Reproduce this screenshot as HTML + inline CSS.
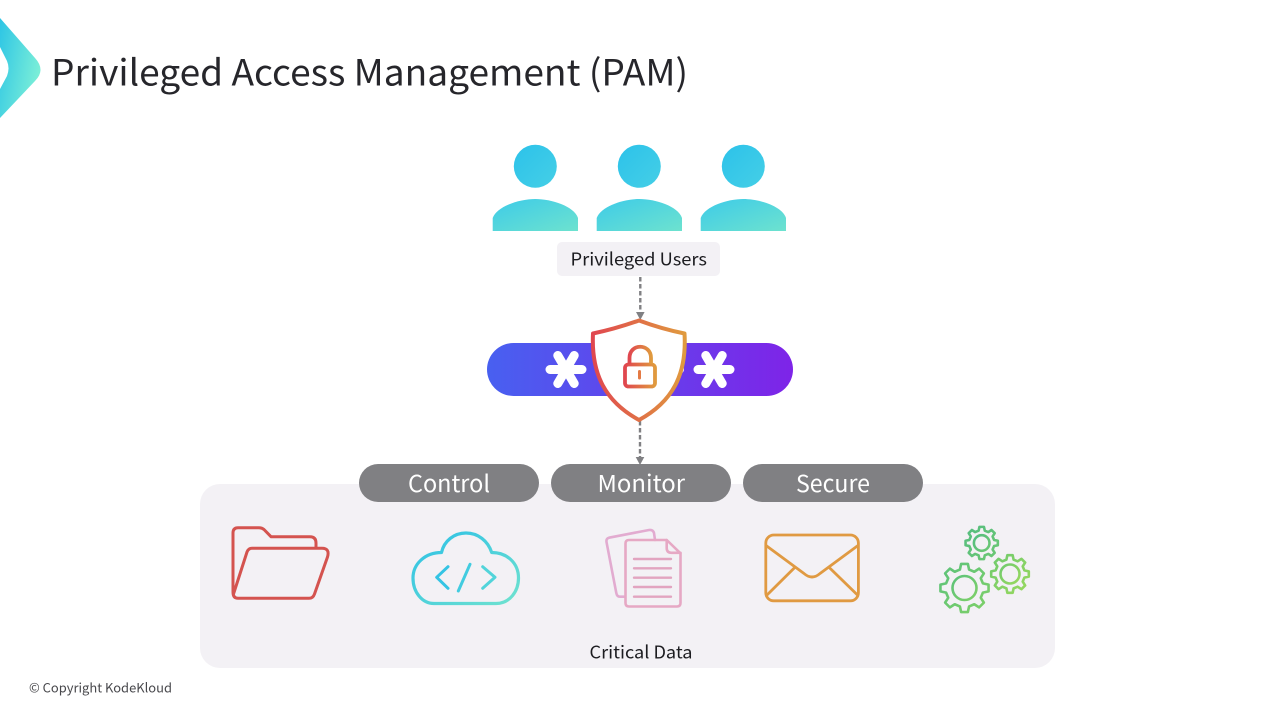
<!DOCTYPE html>
<html><head><meta charset="utf-8"><style>
html,body{margin:0;padding:0;background:#fff;width:1280px;height:720px;overflow:hidden}
svg{display:block}
text{font-family:"Noto Sans CJK JP","Liberation Sans",sans-serif}
</style></head><body>
<svg width="1280" height="720" viewBox="0 0 1280 720" xmlns="http://www.w3.org/2000/svg">
<defs>
<linearGradient id="lg" x1="0" y1="0" x2="1" y2=".45"><stop offset="0" stop-color="#2dc5e5"/><stop offset="1" stop-color="#7aeed8"/></linearGradient>
<linearGradient id="head" x1="0" y1="0" x2="1" y2="1"><stop offset="0" stop-color="#2cc2ea"/><stop offset="1" stop-color="#45cfe6"/></linearGradient>
<linearGradient id="body" x1="0" y1="0" x2="1" y2="1"><stop offset="0" stop-color="#3dcbe8"/><stop offset="1" stop-color="#6de2cf"/></linearGradient>
<linearGradient id="pill" x1="0" y1="0" x2="1" y2="0"><stop offset="0" stop-color="#4860f0"/><stop offset="1" stop-color="#7e24e8"/></linearGradient>
<linearGradient id="shield" x1="0" y1="0" x2="1" y2="0"><stop offset="0" stop-color="#e0474f"/><stop offset="1" stop-color="#e09a3e"/></linearGradient>
<linearGradient id="cloud" x1="0" y1="0" x2="1" y2="1"><stop offset="0" stop-color="#2cc0e6"/><stop offset="1" stop-color="#6fe2cf"/></linearGradient>
<linearGradient id="g1" x1="0" y1="0" x2="1" y2="1"><stop offset="0" stop-color="#55bd7f"/><stop offset="1" stop-color="#6cc873"/></linearGradient>
<linearGradient id="g2" x1="0" y1="0" x2="1" y2="1"><stop offset="0" stop-color="#6fca6e"/><stop offset="1" stop-color="#98d85e"/></linearGradient>
<linearGradient id="g3" x1="0" y1="0" x2="1" y2="1"><stop offset="0" stop-color="#5cc27a"/><stop offset="1" stop-color="#7ed068"/></linearGradient>
</defs>

<!-- logo -->
<path d="M0,18 L35,58 Q46,70 35,81 L0,118 V89 L7,76 Q10,68 7,61 L0,47 Z" fill="url(#lg)"/>
<text x="51" y="85.5" font-size="36" fill="#26262b" textLength="637" lengthAdjust="spacingAndGlyphs">Privileged Access Management (PAM)</text>

<!-- users -->
<g>
<circle cx="535.3" cy="166.3" r="21.5" fill="url(#head)"/>
<circle cx="639.3" cy="166.3" r="21.5" fill="url(#head)"/>
<circle cx="743.3" cy="166.3" r="21.5" fill="url(#head)"/>
<path d="M492.7,231 V218 C497,206 520,199 535.3,199 C551,199 574,206 578,218 V231 Z" fill="url(#body)"/>
<path d="M596.7,231 V218 C601,206 624,199 639.3,199 C655,199 678,206 682,218 V231 Z" fill="url(#body)"/>
<path d="M700.7,231 V218 C705,206 728,199 743.3,199 C759,199 782,206 786,218 V231 Z" fill="url(#body)"/>
</g>
<rect x="557" y="242" width="163" height="34" rx="5" fill="#f3f1f5"/>
<text x="570.5" y="265.5" font-size="17.5" fill="#1c1c20" textLength="136.5" lengthAdjust="spacingAndGlyphs">Privileged Users</text>

<!-- arrows -->
<line x1="640.3" y1="277" x2="640.3" y2="313" stroke="#808083" stroke-width="2.4" stroke-dasharray="4.5 2.5"/>
<path d="M636,312 H644.6 L640.3,320 Z" fill="#808083"/>
<line x1="640" y1="421" x2="640" y2="458" stroke="#808083" stroke-width="2.4" stroke-dasharray="4.5 2.5"/>
<path d="M635.7,457 H644.3 L640,465 Z" fill="#808083"/>

<!-- password pill -->
<rect x="487" y="343" width="306" height="53" rx="26.5" fill="url(#pill)"/>
<g stroke="#fff" stroke-width="9" stroke-linecap="round">
<path d="M550,369.5 H582 M557.8,355.5 L574.2,383.5 M574.2,355.5 L557.8,383.5"/>
<path d="M698,369.5 H730 M705.8,355.5 L722.2,383.5 M722.2,355.5 L705.8,383.5"/>
</g>
<circle cx="680" cy="369.5" r="4" fill="#fff"/>
<path d="M639,320.5 Q615,329 593,333.5 C591,375 606,402 639,420 C672,402 687,375 684.5,333.5 Q662,329 639,320.5 Z" fill="#fff" stroke="url(#shield)" stroke-width="4" stroke-linejoin="round"/>
<rect x="625" y="364.5" width="30" height="22" rx="3.5" fill="none" stroke="url(#shield)" stroke-width="3.8"/>
<path d="M629.5,364 V358 C629.5,343 651,343 651,358 V364" fill="none" stroke="url(#shield)" stroke-width="3.8"/>
<line x1="639.5" y1="371.5" x2="639.5" y2="378" stroke="#e47a44" stroke-width="3" stroke-linecap="round"/>

<!-- panel -->
<rect x="200" y="484" width="855" height="184" rx="20" fill="#f3f1f5"/>
<rect x="359" y="464" width="180" height="38" rx="19" fill="#808083"/>
<rect x="551" y="464" width="180" height="38" rx="19" fill="#808083"/>
<rect x="743" y="464" width="180" height="38" rx="19" fill="#808083"/>
<text x="408" y="492" font-size="23.5" fill="#fff" textLength="82" lengthAdjust="spacingAndGlyphs">Control</text>
<text x="597.5" y="492" font-size="23.5" fill="#fff" textLength="87.5" lengthAdjust="spacingAndGlyphs">Monitor</text>
<text x="796" y="492" font-size="23.5" fill="#fff" textLength="74" lengthAdjust="spacingAndGlyphs">Secure</text>

<!-- folder -->
<g fill="none" stroke="#d4534f" stroke-width="3" stroke-linejoin="round" stroke-linecap="round">
<path d="M316,548 V543 Q316,536.7 310,536.7 H271 L264,529.5 Q262,527.7 259,527.7 H238 Q233,527.7 233,533 V592 Q233,598.3 238,598.3 H309 Q313,598.3 314.5,594 L327.5,557 Q330,548.3 322,548.3 H252 Q248.5,548.3 247,552 L233.5,594"/>
</g>
<!-- cloud -->
<g fill="none" stroke="url(#cloud)" stroke-width="3.2" stroke-linecap="round" stroke-linejoin="round">
<path d="M434,603.5 H496 C510,603.5 518.5,591 518.5,578 C518.5,563 507,552.5 491.7,552.5 C488,541 478,533 466,533 C454,533 444,541 441.5,552.5 C425,552.5 413,564 413,578 C413,592 422,603.5 434,603.5 Z"/>
</g>
<g fill="none" stroke-width="3" stroke-linecap="round" stroke-linejoin="round">
<path d="M448,566.7 L436.7,577.3 L448,588.3" stroke="#34c4e4"/>
<path d="M470,564.3 L458.3,591" stroke="#42cce0"/>
<path d="M482.7,566.7 L495,577.3 L482.7,588.3" stroke="#52d4da"/>
</g>
<!-- docs -->
<g fill="none" stroke-linejoin="round" stroke-linecap="round">
<path d="M625,596.7 H620 Q617,596.7 616.3,593 L606.5,542 Q606,538.5 609,537.7 L649,530 Q653,529.5 654,533 L655,540" stroke="#e2abd0" stroke-width="2.6"/>
<path d="M629,540 H666.7 L680.5,553.3 V603 Q680.5,606.5 677,606.5 H629 Q625.5,606.5 625.5,603 V543.5 Q625.5,540 629,540 Z" stroke="#e6a8c4" stroke-width="2.6"/>
<path d="M666.7,540 V548 Q666.7,552.8 671.5,552.8 H680.5" stroke="#e6a8c4" stroke-width="2.6"/>
<path d="M634,559 H671 M634,568.3 H671 M634,577.7 H671 M634,587 H671 M634,596.7 H671" stroke="#e2a4c0" stroke-width="2.4"/>
</g>
<!-- envelope -->
<g fill="none" stroke="#e09a42" stroke-width="2.8" stroke-linejoin="round" stroke-linecap="round">
<rect x="765.8" y="535" width="92.6" height="65.8" rx="8"/>
<path d="M766,545.5 L804,573.5 Q812,580.5 820,573.5 L858,545.5"/>
<path d="M794,568.3 L767,595 M830,568.3 L857.5,595"/>
</g>
<!-- gears -->
<g fill="none" stroke-width="2.6" stroke-linejoin="round">
<polygon transform="translate(981.7,543) scale(16.3)" vector-effect="non-scaling-stroke" stroke="url(#g1)" points=".757,-.189 .99,-.139 .99,.139 .757,.189 .669,.402 .798,.602 .602,.798 .402,.669 .189,.757 .139,.99 -.139,.99 -.189,.757 -.402,.669 -.602,.798 -.798,.602 -.669,.402 -.757,.189 -.99,.139 -.99,-.139 -.757,-.189 -.669,-.402 -.798,-.602 -.602,-.798 -.402,-.669 -.189,-.757 -.139,-.99 .139,-.99 .189,-.757 .402,-.669 .602,-.798 .798,-.602 .669,-.402"/>
<circle cx="981.7" cy="543" r="7.8" stroke="url(#g1)"/>
<polygon transform="translate(1010,574) scale(19)" vector-effect="non-scaling-stroke" stroke="url(#g2)" points=".757,-.189 .99,-.139 .99,.139 .757,.189 .669,.402 .798,.602 .602,.798 .402,.669 .189,.757 .139,.99 -.139,.99 -.189,.757 -.402,.669 -.602,.798 -.798,.602 -.669,.402 -.757,.189 -.99,.139 -.99,-.139 -.757,-.189 -.669,-.402 -.798,-.602 -.602,-.798 -.402,-.669 -.189,-.757 -.139,-.99 .139,-.99 .189,-.757 .402,-.669 .602,-.798 .798,-.602 .669,-.402"/>
<circle cx="1010" cy="574" r="9.5" stroke="url(#g2)"/>
<polygon transform="translate(964.5,588) scale(24.3)" vector-effect="non-scaling-stroke" stroke="url(#g3)" points=".757,-.189 .99,-.139 .99,.139 .757,.189 .669,.402 .798,.602 .602,.798 .402,.669 .189,.757 .139,.99 -.139,.99 -.189,.757 -.402,.669 -.602,.798 -.798,.602 -.669,.402 -.757,.189 -.99,.139 -.99,-.139 -.757,-.189 -.669,-.402 -.798,-.602 -.602,-.798 -.402,-.669 -.189,-.757 -.139,-.99 .139,-.99 .189,-.757 .402,-.669 .602,-.798 .798,-.602 .669,-.402"/>
<circle cx="964.5" cy="588" r="12" stroke="url(#g3)"/>
</g>
<text x="589.5" y="658.5" font-size="17.5" fill="#1c1c20" textLength="103" lengthAdjust="spacingAndGlyphs">Critical Data</text>
<text x="29" y="692.5" font-size="13" fill="#48484c" textLength="143" lengthAdjust="spacingAndGlyphs">© Copyright KodeKloud</text>
</svg>
</body></html>
